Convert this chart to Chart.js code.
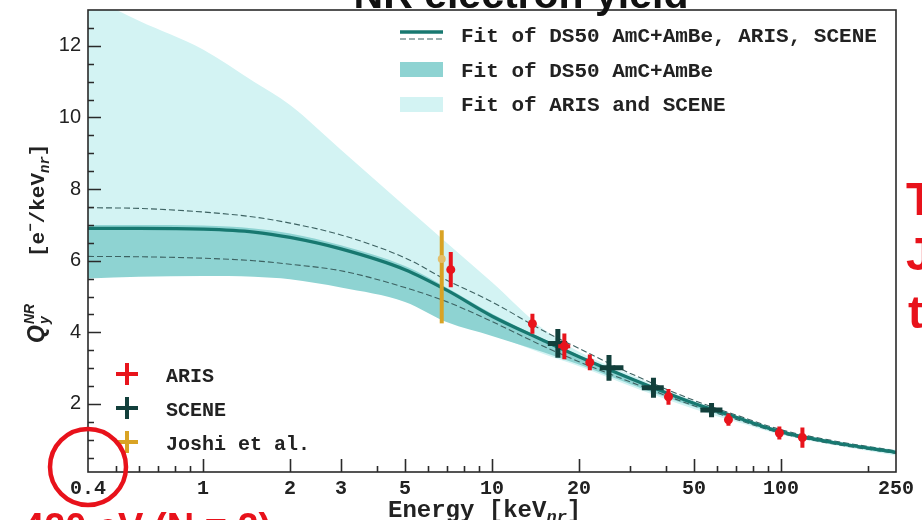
<!DOCTYPE html>
<html>
<head>
<meta charset="utf-8">
<script src="https://cdn.jsdelivr.net/npm/chart.js@4.4.1/dist/chart.umd.min.js"></script>
<style>
  body { margin: 0; background: #fff; }
  #wrap { width: 922px; height: 520px; position: relative; }
</style>
</head>
<body>
<div id="wrap"><canvas id="grafico"></canvas></div>
<script>
// energia (keVnr) onde as curvas do ajuste foram lidas
const energia = [0.4, 0.6, 1, 1.5, 2, 3, 5, 7, 10, 15, 20, 30, 50, 70, 100, 150, 250]
const fitComb = [6.90, 6.90, 6.88, 6.80, 6.65, 6.33, 5.75, 5.17, 4.45, 3.78, 3.32, 2.72, 2.02, 1.63, 1.22, 0.93, 0.65]
const fitCombSup = [7.48, 7.46, 7.36, 7.22, 7.05, 6.72, 6.08, 5.45, 4.85, 4.05, 3.55, 2.86, 2.10, 1.69, 1.28, 0.98, 0.69]
const fitCombInf = [6.12, 6.11, 6.07, 6.00, 5.90, 5.72, 5.25, 4.85, 4.30, 3.62, 3.18, 2.62, 1.95, 1.57, 1.18, 0.89, 0.62]
const ds50Sup = [7.00, 7.00, 6.98, 6.90, 6.76, 6.43, 5.85, 5.24, 4.52, 3.82, 3.36, 2.75, 2.05, 1.66, 1.26, 0.97, 0.69]
const ds50Inf = [5.50, 5.55, 5.57, 5.55, 5.48, 5.25, 4.85, 4.28, 3.90, 3.45, 3.10, 2.56, 1.92, 1.56, 1.17, 0.89, 0.60]
const arisSceneSup = [13.4, 12.7, 11.9, 11.0, 10.35, 9.1, 7.52, 6.49, 5.40, 4.10, 3.46, 2.83, 2.08, 1.68, 1.28, 0.99, 0.72]
const arisSceneInf = [5.80, 5.80, 5.80, 5.75, 5.70, 5.50, 5.00, 4.45, 3.95, 3.40, 3.05, 2.50, 1.86, 1.50, 1.14, 0.86, 0.56]

// pontos ARIS
const arisE = [7.2, 13.8, 17.8, 21.8, 40.8, 65.8, 98.7, 118.6]
const arisQ = [5.75, 4.24, 3.61, 3.16, 2.20, 1.56, 1.19, 1.06]
const arisErrQ = [0.49, 0.28, 0.36, 0.22, 0.22, 0.17, 0.18, 0.28]
const arisErrE = [0.12, 0.3, 0.85, 0.4, 0.8, 1.2, 1.5, 1.5]

// pontos SCENE
const sceneE = [16.9, 25.4, 36.2, 57.5]
const sceneQ = [3.69, 3.01, 2.45, 1.83]
const sceneErrQ = [0.40, 0.36, 0.28, 0.20]
const sceneEmin = [15.6, 23.6, 33.0, 52.6]
const sceneEmax = [18.2, 28.5, 39.3, 62.7]

// Joshi et al.
const joshiE = [6.7]
const joshiQ = [6.05]
const joshiQmin = [4.25]
const joshiQmax = [6.85]

const rotulosX = [0.4, 1, 2, 3, 5, 10, 20, 50, 100, 250]
const rotulosY = [2, 4, 6, 8, 10, 12]
const marcasXMaiores = [1, 2, 3, 5, 10, 20, 50, 100]
const marcasXMenores = [0.5, 0.6, 0.7, 0.8, 0.9, 4, 6, 7, 8, 9, 30, 40, 60, 70, 80, 90, 200]

const corLinha = '#177870'
const corEscura = '#8ed3d2'
const corClara = '#d3f3f3'
const corAris = '#e8141c'
const corScene = '#123f3b'
const corJoshi = '#d9a324'
const mono = "'Liberation Mono', 'Courier New', monospace"
const sans = "'Liberation Sans', Arial, sans-serif"

const curva = (ys) => energia.map((e, i) => ({ x: e, y: ys[i] }))

const linhaBase = {
  pointRadius: 0,
  cubicInterpolationMode: 'monotone',
  showLine: true
}

const barrasErro = {
  id: 'barrasErro',
  beforeDatasetDraw(chart, args) {
    const ds = chart.data.datasets[args.index]
    if (!ds.barras) return
    const { ctx, scales: { x, y } } = chart
    ctx.save()
    ctx.strokeStyle = ds.barras.cor
    ctx.lineWidth = ds.barras.largura
    ctx.lineCap = 'butt'
    ds.data.forEach((p) => {
      const px = x.getPixelForValue(p.x)
      const py = y.getPixelForValue(p.y)
      ctx.beginPath()
      ctx.moveTo(px, y.getPixelForValue(p.yMin))
      ctx.lineTo(px, y.getPixelForValue(p.yMax))
      ctx.moveTo(x.getPixelForValue(p.xMin), py)
      ctx.lineTo(x.getPixelForValue(p.xMax), py)
      ctx.stroke()
    })
    ctx.restore()
  }
}

const moldura = {
  id: 'moldura',
  afterDatasetsDraw(chart) {
    const { ctx, chartArea: a, scales: { x, y } } = chart
    ctx.save()
    ctx.strokeStyle = '#2a2a2a'
    ctx.lineWidth = 1.6
    ctx.strokeRect(a.left, a.top, a.right - a.left, a.bottom - a.top)
    ctx.beginPath()
    marcasXMaiores.forEach(v => {
      const px = Math.round(x.getPixelForValue(v)) + 0.5
      ctx.moveTo(px, a.bottom); ctx.lineTo(px, a.bottom - 13)
    })
    marcasXMenores.forEach(v => {
      const px = Math.round(x.getPixelForValue(v)) + 0.5
      ctx.moveTo(px, a.bottom); ctx.lineTo(px, a.bottom - 6)
    })
    for (let v = 0.5; v < 13; v += 0.5) {
      const py = Math.round(y.getPixelForValue(v)) + 0.5
      const len = rotulosY.includes(v) ? 13 : 6
      ctx.moveTo(a.left, py); ctx.lineTo(a.left + len, py)
    }
    ctx.stroke()
    ctx.restore()
  }
}

function textoComIndices(ctx, partes, x0, y0) {
  // partes: [texto, fonte, deslocamento vertical]
  let x = x0
  partes.forEach(([t, f, dy]) => {
    ctx.font = f
    ctx.fillText(t, x, y0 + dy)
    x += ctx.measureText(t).width
  })
}

const extras = {
  id: 'extras',
  afterDraw(chart) {
    const { ctx } = chart
    ctx.save()
    ctx.textBaseline = 'alphabetic'
    ctx.textAlign = 'left'

    // titulo cortado no topo
    ctx.fillStyle = '#111'
    ctx.font = `bold 41px ${sans}`
    ctx.textAlign = 'center'
    ctx.fillText('NR electron yield', 521, 8)
    ctx.textAlign = 'left'

    // legenda superior
    ctx.strokeStyle = corLinha
    ctx.lineWidth = 3.5
    ctx.beginPath(); ctx.moveTo(400, 32); ctx.lineTo(443, 32); ctx.stroke()
    ctx.strokeStyle = '#3d6262'
    ctx.lineWidth = 1.2
    ctx.setLineDash([6, 3])
    ctx.beginPath(); ctx.moveTo(400, 39); ctx.lineTo(443, 39); ctx.stroke()
    ctx.setLineDash([])
    ctx.fillStyle = corEscura
    ctx.fillRect(400, 62, 43, 15)
    ctx.fillStyle = corClara
    ctx.fillRect(400, 97, 43, 15)
    ctx.fillStyle = '#222'
    ctx.font = `bold 21px ${mono}`
    ctx.fillText('Fit of DS50 AmC+AmBe, ARIS, SCENE', 461, 42)
    ctx.fillText('Fit of DS50 AmC+AmBe', 461, 77)
    ctx.fillText('Fit of ARIS and SCENE', 461, 111)

    // legenda inferior
    const itens = [['ARIS', corAris, 374], ['SCENE', corScene, 408], ['Joshi et al.', corJoshi, 442]]
    itens.forEach(([nome, cor, yy]) => {
      ctx.strokeStyle = cor
      ctx.lineWidth = 4
      ctx.beginPath()
      ctx.moveTo(116, yy); ctx.lineTo(138, yy)
      ctx.moveTo(127, yy - 11); ctx.lineTo(127, yy + 11)
      ctx.stroke()
      ctx.fillStyle = '#222'
      ctx.font = `bold 20px ${mono}`
      ctx.fillText(nome, 166, yy + 8)
    })

    // titulo do eixo x
    ctx.fillStyle = '#222'
    textoComIndices(ctx, [
      ['Energy [keV', `bold 24px ${mono}`, 0],
      ['nr', `bold italic 17px ${mono}`, 5],
      [']', `bold 24px ${mono}`, 0]
    ], 388, 517)

    // titulo do eixo y
    ctx.save()
    ctx.translate(44, 343)
    ctx.rotate(-Math.PI / 2)
    ctx.font = `bold italic 23px ${sans}`
    ctx.fillText('Q', 0, 0)
    const wq = ctx.measureText('Q').width
    ctx.font = `bold italic 14px ${sans}`
    ctx.fillText('y', wq + 1, 5)
    ctx.fillText('NR', wq + 1, -10)
    textoComIndices(ctx, [
      ['[e', `bold 21px ${mono}`, 0],
      ['\u2212', `bold 14px ${mono}`, -9],
      ['/keV', `bold 21px ${mono}`, 0],
      ['nr', `bold italic 14px ${mono}`, 5],
      [']', `bold 21px ${mono}`, 0]
    ], 86, 0)
    ctx.restore()

    // anotacoes em vermelho
    ctx.strokeStyle = '#e8121b'
    ctx.lineWidth = 4.5
    ctx.beginPath()
    ctx.arc(88, 467, 38, 0, Math.PI * 2)
    ctx.stroke()
    ctx.fillStyle = '#e8121b'
    ctx.font = `bold 38px ${sans}`
    ctx.fillText('420 eV (N = 2)', 23, 540)
    ctx.font = `bold 46px ${sans}`
    ctx.fillText('T', 906, 215)
    ctx.fillText('J', 906, 270)
    ctx.fillText('t', 908, 328)
    ctx.restore()
  }
}

const chart = new Chart(document.getElementById('grafico'), {
  type: 'line',
  data: {
    datasets: [
      {
        label: 'ARIS',
        data: arisE.map((e, i) => ({ x: e, y: arisQ[i], xMin: e - arisErrE[i], xMax: e + arisErrE[i], yMin: arisQ[i] - arisErrQ[i], yMax: arisQ[i] + arisErrQ[i] })),
        showLine: false,
        pointRadius: 4.5,
        pointBackgroundColor: corAris,
        pointBorderWidth: 0,
        barras: { cor: corAris, largura: 4 }
      },
      {
        label: 'SCENE',
        data: sceneE.map((e, i) => ({ x: e, y: sceneQ[i], xMin: sceneEmin[i], xMax: sceneEmax[i], yMin: sceneQ[i] - sceneErrQ[i], yMax: sceneQ[i] + sceneErrQ[i] })),
        showLine: false,
        pointRadius: 0,
        barras: { cor: corScene, largura: 5 }
      },
      {
        label: 'Joshi et al.',
        data: joshiE.map((e, i) => ({ x: e, y: joshiQ[i], xMin: e, xMax: e, yMin: joshiQmin[i], yMax: joshiQmax[i] })),
        showLine: false,
        pointRadius: 4,
        pointBackgroundColor: '#e4bf6a',
        pointBorderWidth: 0,
        barras: { cor: corJoshi, largura: 4 }
      },
      { ...linhaBase, label: 'comb', data: curva(fitComb), borderColor: corLinha, borderWidth: 3.2, fill: false },
      { ...linhaBase, label: 'combSup', data: curva(fitCombSup), borderColor: '#3d6262', borderWidth: 1.1, borderDash: [6, 3], fill: false },
      { ...linhaBase, label: 'combInf', data: curva(fitCombInf), borderColor: '#3d6262', borderWidth: 1.1, borderDash: [6, 3], fill: false },
      { ...linhaBase, label: 'ds50Sup', data: curva(ds50Sup), borderWidth: 0, fill: '+1', backgroundColor: corEscura },
      { ...linhaBase, label: 'ds50Inf', data: curva(ds50Inf), borderWidth: 0, fill: false },
      { ...linhaBase, label: 'asSup', data: curva(arisSceneSup), borderWidth: 0, fill: '+1', backgroundColor: corClara },
      { ...linhaBase, label: 'asInf', data: curva(arisSceneInf), borderWidth: 0, fill: false }
    ]
  },
  options: {
    responsive: true,
    maintainAspectRatio: false,
    animation: false,
    events: [],
    layout: { padding: { left: 0, right: 26, top: 10, bottom: 0 } },
    plugins: { legend: { display: false }, tooltip: { enabled: false } },
    scales: {
      x: {
        type: 'logarithmic',
        min: 0.4,
        max: 250,
        afterBuildTicks: (s) => { s.ticks = rotulosX.map(v => ({ value: v })) },
        afterFit: (s) => { s.height = 48; s.paddingLeft = 0; s.paddingRight = 0 },
        grid: { display: false, drawTicks: false },
        border: { display: false },
        ticks: {
          autoSkip: false,
          maxRotation: 0,
          padding: 5,
          color: '#222',
          font: { family: mono, size: 20, weight: 'bold' },
          callback: (v) => String(v)
        }
      },
      y: {
        type: 'linear',
        min: 0.1,
        max: 13,
        afterBuildTicks: (s) => { s.ticks = rotulosY.map(v => ({ value: v })) },
        afterFit: (s) => { s.width = 88; s.paddingTop = 0; s.paddingBottom = 0 },
        grid: { display: false, drawTicks: false },
        border: { display: false },
        ticks: {
          padding: 7,
          color: '#222',
          font: { family: sans, size: 20 }
        }
      }
    }
  },
  plugins: [barrasErro, moldura, extras]
})
</script>
</body>
</html>
